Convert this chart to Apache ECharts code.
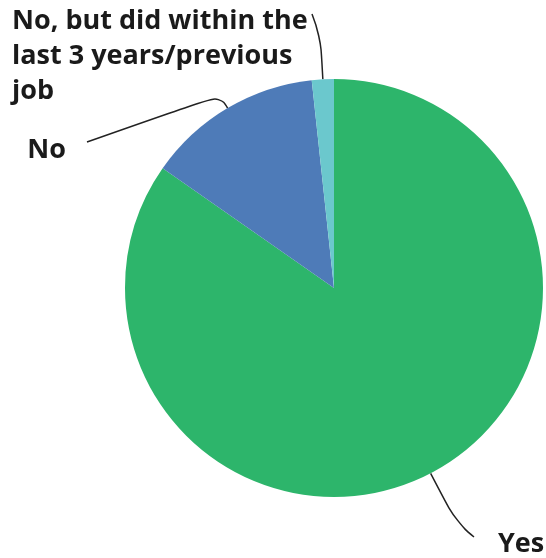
<!DOCTYPE html>
<html>
<head>
<meta charset="utf-8">
<script src="https://cdn.jsdelivr.net/npm/echarts@6/dist/echarts.min.js"></script>
<style>
  html, body { margin: 0; padding: 0; background: #ffffff; }
  #chart { width: 546px; height: 558px; }
</style>
</head>
<body>
<div id="chart"></div>
<script>
// Survey answers, clockwise from 12 o'clock
const categories = ['Yes', 'No', 'No, but did within the\nlast 3 years/previous\njob'];
const shares = [84.7, 13.6, 1.7];
const colors = ['#2db56b', '#4e7bb8', '#6bc8cd'];

// Pie geometry
const CENTER = [334, 288];
const RADIUS = 209;

// Where each label sits, how long the radial leg of its leader is,
// and where the leader ends relative to the label anchor
const labelPlacement = [
  { x: 498, y: 544, align: 'left',  verticalAlign: 'middle', leg: 55, end: [-24, -7] },
  { x: 66,  y: 150, align: 'right', verticalAlign: 'middle', leg: 15, end: [21, -8] },
  { x: 12,  y: 4,   align: 'left',  verticalAlign: 'top',    leg: 44, end: [300, 10] }
];

const chart = echarts.init(document.getElementById('chart'), null, { renderer: 'canvas' });

chart.setOption({
  backgroundColor: '#ffffff',
  animation: false,
  series: [{
    type: 'pie',
    center: CENTER,
    radius: [0, RADIUS],
    startAngle: 90,
    clockwise: true,
    avoidLabelOverlap: false,
    data: categories.map((name, i) => ({
      name: name,
      value: shares[i],
      itemStyle: { color: colors[i] }
    })),
    label: {
      show: true,
      position: 'outside',
      formatter: '{b}',
      fontFamily: 'Open Sans',
      fontWeight: 'bold',
      fontSize: 27,
      lineHeight: 35,
      color: '#1a1a1a',
      padding: 0
    },
    labelLine: {
      show: true,
      length: 20,
      length2: 20,
      smooth: 0.5,
      lineStyle: { color: '#222222', width: 1.5 }
    },
    emphasis: { disabled: true },
    labelLayout: function (params) {
      const p = labelPlacement[params.dataIndex];
      const start = params.labelLinePoints[0];
      const dx = start[0] - CENTER[0];
      const dy = start[1] - CENTER[1];
      const len = Math.sqrt(dx * dx + dy * dy) || 1;
      const bend = [start[0] + dx / len * p.leg, start[1] + dy / len * p.leg];
      const finish = [p.x + p.end[0], p.y + p.end[1]];
      return {
        x: p.x,
        y: p.y,
        align: p.align,
        verticalAlign: p.verticalAlign,
        labelLinePoints: [start, bend, finish]
      };
    }
  }]
});
</script>
</body>
</html>
